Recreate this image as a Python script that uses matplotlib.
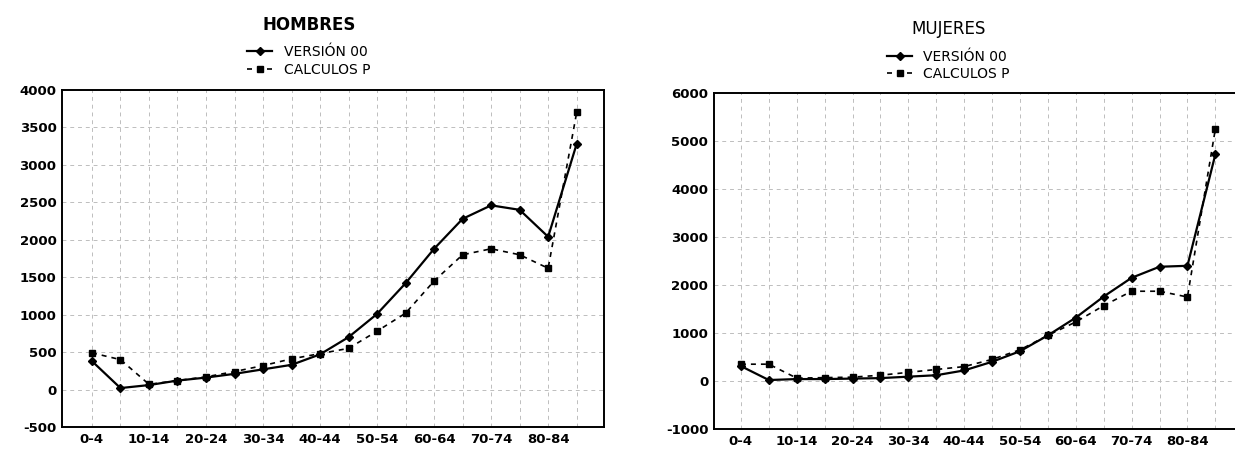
import numpy as np
import matplotlib.pyplot as plt

plt.rcParams['font.family'] = ['DejaVu Sans']
plt.rcParams['axes.unicode_minus'] = False

grupos = ['0-4', '5-9', '10-14', '15-19', '20-24', '25-29', '30-34', '35-39',
          '40-44', '45-49', '50-54', '55-59', '60-64', '65-69', '70-74',
          '75-79', '80-84', '85+']

hombres_v00 = [380, 20, 60, 120, 160, 210, 270, 330, 470, 700, 1010, 1420,
               1880, 2280, 2460, 2400, 2040, 3280]
hombres_calc = [490, 400, 70, 120, 170, 240, 320, 410, 480, 550, 780, 1020,
                1450, 1800, 1880, 1800, 1620, 3700]

mujeres_v00 = [310, 20, 40, 40, 50, 60, 90, 120, 220, 400, 620, 950,
               1320, 1760, 2150, 2380, 2400, 4720]
mujeres_calc = [350, 350, 60, 70, 80, 120, 180, 240, 300, 450, 650, 950,
                1230, 1570, 1870, 1870, 1750, 5250]

fig = plt.figure(figsize=(12.35, 4.51), dpi=100)


def panel(rect, v00, calc, ylim, ystep, xlim, titulo, tx, ty, ly, bold):
    ax = fig.add_axes(rect)
    x = np.arange(len(grupos))
    ax.plot(x, v00, '-', color='black', lw=1.6, marker='D', ms=4.5,
            label='VERSIÓN 00')
    ax.plot(x, calc, '--', color='black', lw=1.2, dashes=(3, 3), marker='s',
            ms=5, label='CALCULOS P')
    ax.set_xlim(*xlim)
    ax.set_ylim(*ylim)
    ax.set_yticks(np.arange(ylim[0], ylim[1] + 1, ystep))
    ax.set_xticks(x)
    ax.set_xticklabels([g if i % 2 == 0 else '' for i, g in enumerate(grupos)])
    ax.grid(True, color='#bdbdbd', ls=(0, (4, 4)), lw=0.7)
    ax.tick_params(labelsize=9.5, length=0, pad=4)
    for lab in ax.get_xticklabels() + ax.get_yticklabels():
        lab.set_fontweight('bold')
    for s in ax.spines.values():
        s.set_linewidth(1.4)
    fig.text(tx, ty, titulo, ha='center', va='center', fontsize=12,
             fontweight='bold' if bold else 'normal')
    ax.legend(loc='upper center', bbox_to_anchor=(tx, ly),
              bbox_transform=fig.transFigure, frameon=False, fontsize=10,
              handlelength=1.8, labelspacing=0.25, handletextpad=0.8,
              borderpad=0.1)
    return ax


panel([0.0502, 0.0532, 0.4389, 0.7472], hombres_v00, hombres_calc,
      (-500, 4000), 500, (-1.05, 17.96), 'HOMBRES', 0.250, 0.945, 0.918, True)
ax2 = panel([0.578, 0.0488, 0.4219, 0.745], mujeres_v00, mujeres_calc,
            (-1000, 6000), 1000, (-0.97, 17.7), 'MUJERES', 0.768, 0.935,
            0.908, False)
ax2.spines['right'].set_visible(False)

fig.savefig('out.png', dpi=100, facecolor='white')
